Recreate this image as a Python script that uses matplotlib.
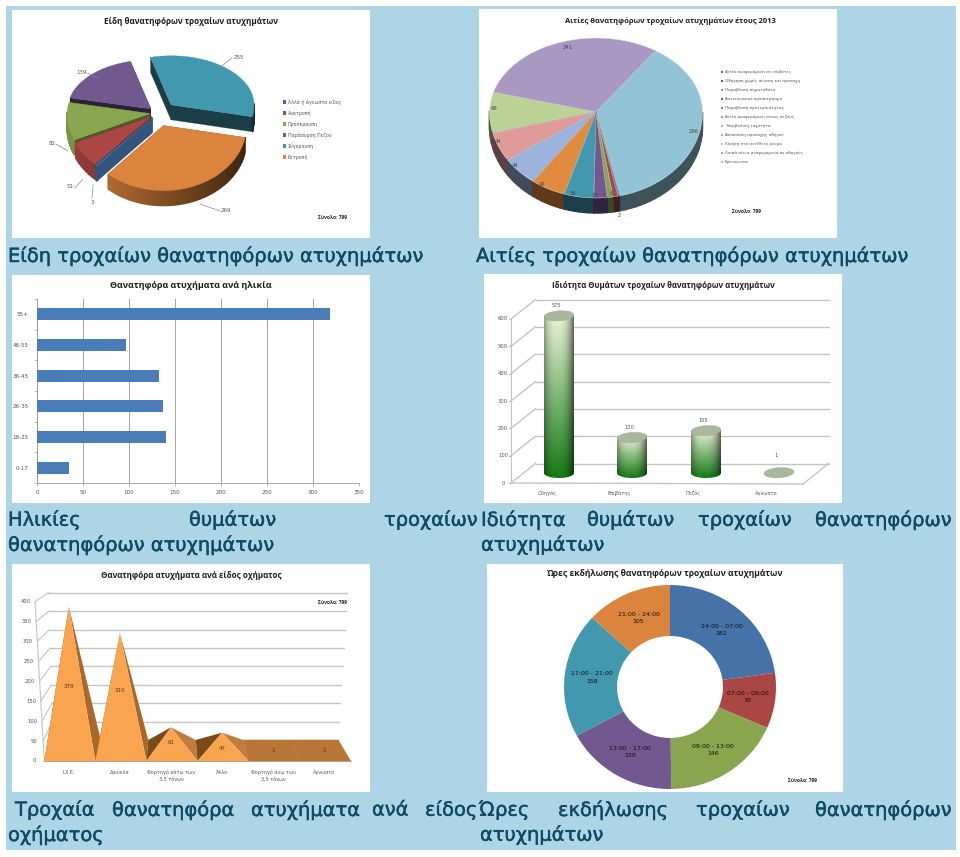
import numpy as np
import matplotlib
matplotlib.use("Agg")
import matplotlib.pyplot as plt
from matplotlib.patches import Polygon, Rectangle, Ellipse
import matplotlib.patheffects as pe
from matplotlib.colors import to_rgb

W, H = 960, 857
# ---------- data ----------
types_labels = ["Άλλα ή άγνωστο είδος", "Ανατροπή", "Πρόσκρουση", "Παράσυρση Πεζού", "Σύγκρουση", "Εκτροπή"]
types_values = [3, 51, 82, 139, 255, 269]
cause_labels = ["Αιτία αναφερόμενη σε επιβάτες", "Οδήγηση χωρίς σύνεση και προσοχή", "Παραβίαση σηματοδότη",
                "Αντικανονικό προσπέρασμα", "Παραβίαση προτεραιότητας", "Αιτία αναφερόμενη στους πεζούς",
                "Υπερβολική ταχύτητα", "Απόσπαση προσοχής οδηγού", "Κίνηση στο αντίθετο ρεύμα",
                "Λοιπά αίτια αναφερόμενα σε οδηγούς", "Ερευνώνται"]
cause_values = [2, 6, 7, 16, 36, 42, 44, 44, 66, 241, 296]
age_labels = ["0-17", "18-25", "26-35", "36-45", "46-55", "55+"]
age_values = [35, 140, 137, 133, 97, 318]
role_labels = ["Οδηγός", "Επιβάτης", "Πεζός", "Άγνωστο"]
role_values = [575, 130, 155, 1]
veh_labels = ["Ι.Χ.Ε.", "Δίκυκλα", "Φορτηγό κάτω των\n3,5 τόνων", "Άλλο", "Φορτηγό άνω των\n3,5 τόνων", "Άγνωστο"]
veh_values = [379, 310, 61, 47, 1, 1]
hour_labels = ["24:00 - 07:00", "07:00 - 09:00", "09:00 - 13:00", "13:00 - 17:00", "17:00 - 21:00", "21:00 - 24:00"]
hour_values = [182, 70, 146, 138, 158, 105]

# ---------- styles ----------
BG = "#ADD5E5"
CAP = "#0F4A66"
FONT = "DejaVu Sans"
TITLE_FONT = "Open Sans"
c_types = ["#3F6A9E", "#AA4643", "#89A54E", "#71588F", "#4198AF", "#DB843D"]
c_cause = ["#4572A7", "#AA4643", "#89A54E", "#71588F", "#4198AF", "#E08B3E",
           "#9CB3DB", "#DE9B9A", "#BCD195", "#A999C2", "#93C4D6"]
c_hour = ["#4572A7", "#AA4643", "#89A54E", "#71588F", "#4198AF", "#DB843D"]

fig = plt.figure(figsize=(W / 100, H / 100), dpi=100, facecolor="white")
ov = fig.add_axes([0, 0, 1, 1], zorder=1)
ov.set_xlim(0, W); ov.set_ylim(H, 0); ov.axis("off")
ov.add_patch(Rectangle((6, 6), 950, 844, fc=BG, ec="none", zorder=0))
for (x0, y0, x1, y1) in [(12, 10, 370, 238), (479, 9, 837, 238), (12, 275, 370, 503),
                         (484, 274, 842, 503), (12, 564, 370, 792), (487, 564, 843, 792)]:
    ov.add_patch(Rectangle((x0, y0), x1 - x0, y1 - y0, fc="white", ec="none", zorder=0.5))


def px_axes(x0, y0, x1, y1, **kw):
    return fig.add_axes([x0 / W, 1 - y1 / H, (x1 - x0) / W, (y1 - y0) / H], zorder=2, **kw)


def shade(c, f):
    return tuple(min(1, v * f) for v in to_rgb(c))


def txt(x, y, s, size=4.6, color="#555555", ha="center", va="center", font=FONT, **kw):
    ov.text(x, y, s, fontsize=size, color=color, ha=ha, va=va, family=font, zorder=20, **kw)


def title(x, y, s, size):
    txt(x, y, s, size=size, color="#1c1c1c", font=TITLE_FONT, fontweight="bold")


def total_note(x, y):
    txt(x, y, "Σύνολο: 799", size=3.5, color="#222222", font=TITLE_FONT, fontweight="bold")


def pie3d(values, colors, cx, cy, rx, ry_up, ry_dn, depth, start, explode, wall, side, edge=None):
    total = float(sum(values))
    ang = start
    parts = []
    for i, v in enumerate(values):
        sweep = 360.0 * v / total
        parts.append((i, ang, ang - sweep))
        ang -= sweep
    parts.sort(key=lambda p: -np.sin(np.radians((p[1] + p[2]) / 2)))
    for z, (i, a0, a1) in enumerate(parts):
        mid = np.radians((a0 + a1) / 2)
        ex, ey = np.cos(mid), np.sin(mid)
        ax_ = cx + explode[i] * ex
        ay_ = cy - explode[i] * ey * (ry_up / rx if ey > 0 else ry_dn / rx)
        th = np.radians(np.linspace(a0, a1, max(3, int(abs(a0 - a1) / 3) + 2)))
        xs = ax_ + rx * np.cos(th)
        ys = ay_ - np.where(np.sin(th) > 0, ry_up, ry_dn) * np.sin(th)
        zo = 3 + z * 0.1
        col = colors[i]
        wc = shade(col, wall[i])
        for (xe, ye) in [(xs[0], ys[0]), (xs[-1], ys[-1])]:
            ov.add_patch(Polygon([(ax_, ay_), (xe, ye), (xe, ye + depth), (ax_, ay_ + depth)],
                                 fc=wc, ec=wc, lw=0.2, zorder=zo))
        for k in range(len(th) - 1):
            tm = (th[k] + th[k + 1]) / 2
            if np.sin(tm) < 0.02:
                sc = shade(col, side(tm))
                ov.add_patch(Polygon([(xs[k], ys[k]), (xs[k + 1], ys[k + 1]),
                                      (xs[k + 1], ys[k + 1] + depth), (xs[k], ys[k] + depth)],
                                     fc=sc, ec=sc, lw=1.0, joinstyle="round", zorder=zo + 0.01))
        ov.add_patch(Polygon(np.column_stack([np.r_[ax_, xs], np.r_[ay_, ys]]), fc=col,
                             ec=edge if edge else col, lw=0.3, zorder=zo + 0.02))


# ---------- captions ----------
def cap(y, items):
    for x, s in items:
        ov.text(x, y, s, fontsize=14.0, color=CAP, ha="left", va="center", family=FONT, zorder=20,
                path_effects=[pe.withStroke(linewidth=0.3, foreground=CAP)])


cap(256, [(8, "Είδη τροχαίων θανατηφόρων ατυχημάτων")])
cap(256, [(476, "Αιτίες τροχαίων θανατηφόρων ατυχημάτων")])
cap(520, [(8, "Ηλικίες"), (189, "θυμάτων"), (384, "τροχαίων")])
cap(545, [(8, "θανατηφόρων ατυχημάτων")])
cap(520, [(481, "Ιδιότητα"), (587, "θυμάτων"), (698, "τροχαίων"), (815, "θανατηφόρων")])
cap(545, [(481, "ατυχημάτων")])
cap(810, [(15, "Τροχαία"), (112, "θανατηφόρα"), (251, "ατυχήματα"), (372, "ανά"), (425, "είδος")])
cap(835, [(8, "οχήματος")])
cap(810, [(479, "Ώρες"), (558, "εκδήλωσης"), (696, "τροχαίων"), (815, "θανατηφόρων")])
cap(835, [(480, "ατυχημάτων")])

# ---------- chart 1: exploded 3D pie ----------
title(191, 21, "Είδη θανατηφόρων τροχαίων ατυχημάτων", 5.9)
pie3d(types_values, c_types, 158, 113, 83, 49, 65, 15, 228.2,
      explode=[8, 8, 8, 10, 19, 17], wall=[0.8, 0.6, 0.55, 0.4, 0.4, 0.5],
      side=lambda t: 0.9 - 0.62 * (np.cos(t) + 1) / 2)
for i, s in enumerate(types_labels):
    y = 102 + i * 11
    ov.add_patch(Rectangle((282.5, y - 1.6), 3, 3.2, fc=c_types[i], ec="none", zorder=10))
    txt(287.5, y, s, size=3.4, ha="left")
for (tx, ty, s, lx, ly) in [(239, 57.5, "255", [219, 232], [68, 58]), (82, 72, "139", [87, 98], [73, 78]),
                            (52, 143, "82", [56, 68], [144, 151]), (70, 186, "51", [75, 83], [188, 179]),
                            (92, 202, "3", [92, 93], [198, 185]), (226, 210, "269", [200, 220], [204, 211])]:
    txt(tx, ty, s, size=4.0)
    ov.plot(lx, ly, color="#8a8a8a", lw=0.5, zorder=12)
total_note(332, 217)

# ---------- chart 2: 3D pie ----------
title(670, 21, "Αιτίες θανατηφόρων τροχαίων ατυχημάτων έτους 2013", 5.4)
pie3d(cause_values, c_cause, 596, 112, 106.5, 74, 86, 15, 56 - 360.0 * cause_values[-1] / sum(cause_values),
      explode=[0] * 11, wall=[0.42] * 11, side=lambda t: 0.42, edge="#e6eef0")
for i, s in enumerate(cause_labels):
    y = 72 + i * 9
    ov.add_patch(Rectangle((721, y - 1.1), 2.2, 2.2, fc=c_cause[i], ec="none", zorder=10))
    txt(725, y, s, size=2.95, ha="left")
for (tx, ty, s) in [(568, 47, "241"), (694, 131, "296"), (494, 108, "66"), (498, 141, "44"), (515, 165, "44"),
                    (542, 184, "42"), (573, 193, "36"), (595, 195, "16"), (604, 195, "7"), (611, 193, "6"),
                    (619, 215, "2")]:
    txt(tx, ty, s, size=3.8, color="#444444")
total_note(746, 211)

# ---------- chart 3: horizontal bars ----------
title(191, 286, "Θανατηφόρα ατυχήματα ανά ηλικία", 6.4)
a3 = px_axes(37, 299, 359, 483)
a3.patch.set_alpha(0)
ypos = np.arange(len(age_values))
a3.barh(ypos, age_values, height=0.39, color="#4A7CB8", zorder=3)
a3.set_xlim(0, 350); a3.set_ylim(-0.5, 5.5)
a3.set_xticks(range(0, 351, 50))
a3.set_yticks(np.arange(-0.5, 6, 1))
a3.set_yticklabels([])
a3.set_yticks(ypos, labels=age_labels, minor=True)
a3.tick_params(axis="y", which="minor", length=0, labelsize=4.1, labelcolor="#555555", pad=6)
a3.tick_params(axis="y", which="major", length=2, color="#999999", width=0.5)
a3.tick_params(axis="x", length=2, color="#999999", width=0.5, labelsize=4.1, labelcolor="#555555", pad=3)
a3.grid(axis="x", color="#a4a4a4", lw=0.7, zorder=0)
a3.set_axisbelow(True)
for sp in ["top", "right"]:
    a3.spines[sp].set_visible(False)
for sp in ["left", "bottom"]:
    a3.spines[sp].set_color("#999999"); a3.spines[sp].set_linewidth(0.6)

# ---------- chart 4: cylinders ----------
title(663, 285, "Ιδιότητα Θυμάτων τροχαίων θανατηφόρων ατυχημάτων", 5.6)
fx0, fx1, fy0, fy600 = 511.0, 803.0, 483.0, 319.0
dx, dy = 24.5, -19.5
GRID = "#c4c4c4"
for v in range(0, 601, 100):
    yf = fy0 + (fy600 - fy0) * v / 600
    ov.plot([fx0, fx0 + dx], [yf, yf + dy], color=GRID, lw=1.0, zorder=1)
    ov.plot([fx0 + dx, fx1 + dx + 1], [yf + dy, yf + dy], color=GRID, lw=1.0, zorder=1)
    ov.plot([fx0 - 2, fx0], [yf, yf], color="#999999", lw=0.5, zorder=1)
    txt(fx0 - 8, yf, str(v), size=3.8)
ov.plot([fx0, fx0], [fy0, fy600], color=GRID, lw=0.8, zorder=1)
ov.plot([fx0, fx1, fx1 + dx + 1], [fy0, fy0 + 1, fy0 + dy], color=GRID, lw=1.0, zorder=1)
centers = [559, 632, 706, 779]
top_c = np.array(to_rgb("#EAF4D8")); bot_c = np.array(to_rgb("#157A15"))
hw, eh, base = 15.0, 10.0, 473.0
scale = (fy0 - fy600) / 600
for xc, v in zip(centers, role_values):
    ytop = base - v * scale
    if v > 5:
        ss = np.linspace(-1, 1, 48)
        tt = np.linspace(0, 1, 96)[:, None, None]
        sh = (1 - 0.45 * np.abs(ss + 0.1) ** 2.6)[None, :, None]
        img = np.clip((top_c * (1 - tt) + bot_c * tt) * sh, 0, 1)
        im = ov.imshow(img, extent=(xc - hw, xc + hw, base + eh / 2, ytop), aspect="auto", zorder=4,
                       interpolation="bilinear")
        th = np.linspace(np.pi, 0, 40)
        clip = Polygon(np.r_[[(xc - hw, ytop), (xc + hw, ytop)],
                             np.column_stack([xc - hw * np.cos(th), base + eh / 2 * np.sin(th)])],
                       transform=ov.transData)
        im.set_clip_path(clip)
    ov.add_patch(Ellipse((xc, ytop), 2 * hw, eh, angle=-4, fc="#A9B89C", ec="#98a88c", lw=0.3, zorder=5))
    txt(xc - 3, ytop - (10 if v > 5 else 17), str(v), size=3.7)
for x, lab in zip([547, 619, 693, 766], role_labels):
    txt(x, 493, lab, size=3.6)
ov.set_xlim(0, W); ov.set_ylim(H, 0)

# ---------- chart 5: pyramids ----------
title(191, 576, "Θανατηφόρα ατυχήματα ανά είδος οχήματος", 5.8)
fl0, fr0 = 44.3, 350.7
fy_0, fy_400 = 761.0, 601.7
fl_400 = 35.0
by_0, by_400 = 740.0, 592.7
bl_0, bl_400 = 53.3, 48.3
br_0, br_400 = 338.3, 346.7
for v in range(0, 401, 50):
    t = v / 400
    yf = fy_0 + (fy_400 - fy_0) * t
    xf = fl0 + (fl_400 - fl0) * t
    yb = by_0 + (by_400 - by_0) * t
    xb = bl_0 + (bl_400 - bl_0) * t
    xr = br_0 + (br_400 - br_0) * t
    ov.plot([xf, xb], [yf, yb], color=GRID, lw=0.8, zorder=1)
    ov.plot([xb, xr], [yb, yb], color=GRID, lw=1.0, zorder=1)
    txt(xf - 9.5, yf, str(v), size=3.8)
ov.plot([fl0, fl_400], [fy_0, fy_400], color=GRID, lw=0.8, zorder=1)
n = len(veh_values)
bw = (fr0 - fl0) / n
k_px, mid_off = 0.38, 10.5
back_x = lambda x: bl_0 + (x - fl0) * 0.93
ORANGE, RIGHT_TALL, RIGHT_LOW, LEFT, FLOOR = "#F9A550", "#A8682C", "#C07C3C", "#7A4A18", "#B87636"
vlab_y = [686, 691, 743, 749, 750, 750]
for i, (v, lab) in enumerate(zip(veh_values, veh_labels)):
    A, B = fl0 + i * bw, fl0 + (i + 1) * bw
    C, D = back_x(B), back_x(A)
    mid = (A + B) / 2
    P = (mid - 1, fy_0 - mid_off - v * k_px)
    ty = by_0
    if v > 2:
        ov.add_patch(Polygon([(A, fy_0), (D, ty), P], fc=LEFT, ec="none", zorder=3))
        ov.add_patch(Polygon([(B, fy_0), (C, ty), P], fc=RIGHT_TALL if v > 100 else RIGHT_LOW, ec="none", zorder=3))
    else:
        ov.add_patch(Polygon([(A, fy_0), (B, fy_0), (C, ty), (D, ty)], fc=FLOOR, ec=FLOOR, lw=0.3, zorder=3))
    txt(mid - 1, vlab_y[i], str(v), size=4.0, color="#5a3410")
    txt(mid - 1, 775.5 if "\n" in lab else 772, lab, size=3.5, linespacing=1.6)
for i, v in enumerate(veh_values):
    if v > 2:
        A, B = fl0 + i * bw, fl0 + (i + 1) * bw
        P = ((A + B) / 2 - 1, fy_0 - mid_off - v * k_px)
        ov.add_patch(Polygon([(A, fy_0), (B, fy_0), P], fc=ORANGE, ec="none", zorder=4))
ov.plot([fl0, fr0], [fy_0 + 0.3, fy_0 + 0.3], color="#b8a080", lw=0.7, zorder=5)
total_note(333, 603)

# ---------- chart 6: donut ----------
title(664, 574, "Ώρες εκδήλωσης θανατηφόρων τροχαίων ατυχημάτων", 6.1)
a6 = px_axes(564, 585, 776, 789)
a6.patch.set_alpha(0)
wed, _ = a6.pie(hour_values, colors=c_hour, startangle=90, counterclock=False, radius=1,
                wedgeprops=dict(width=0.5, linewidth=0))
a6.set_aspect("auto")
a6.set_xlim(-1, 1); a6.set_ylim(-1, 1)
total = sum(hour_values)
acc = 0
for lab, v in zip(hour_labels, hour_values):
    ang = np.pi / 2 - 2 * np.pi * (acc + v / 2) / total
    acc += v
    a6.text(0.74 * np.cos(ang), 0.74 * np.sin(ang), f"{lab}\n{v}", fontsize=4.5, ha="center", va="center",
            family=FONT, color="#111111", linespacing=1.6)
total_note(803, 781)

fig.savefig("out.png", dpi=100, facecolor="white")
